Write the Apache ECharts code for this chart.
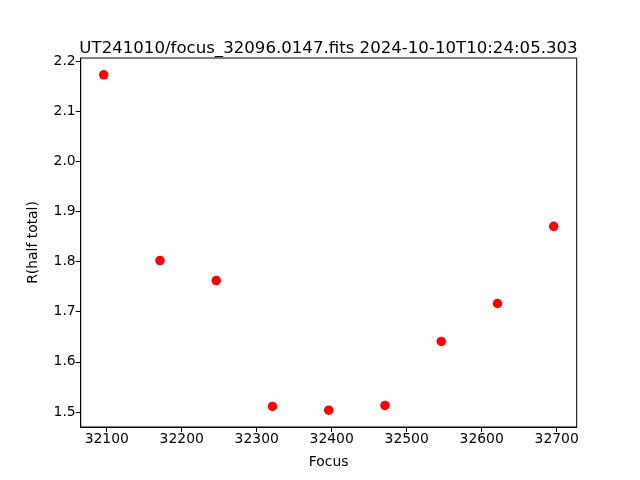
<!DOCTYPE html>
<html>
<head>
<meta charset="utf-8">
<script src="https://cdn.jsdelivr.net/npm/echarts@6/dist/echarts.min.js"></script>
<style>html,body{margin:0;padding:0;background:#fff}#c{width:640px;height:480px}</style>
</head>
<body>
<div id="c"></div>
<script>
const titleText = 'UT241010/focus_32096.0147.fits 2024-10-10T10:24:05.303';
const focusValues = [32096, 32171, 32246, 32321, 32396, 32471, 32546, 32621, 32696];
const rHalfTotal = [2.1725, 1.802, 1.762, 1.511, 1.5035, 1.513, 1.6406, 1.7163, 1.8703];
const xTicks = [32100, 32200, 32300, 32400, 32500, 32600, 32700];
const yTicks = [1.5, 1.6, 1.7, 1.8, 1.9, 2.0, 2.1, 2.2];

const FONT = 'DejaVu Sans';
const chart = echarts.init(document.getElementById('c'), null, {renderer: 'canvas'});
const axisCommon = {
  axisLine: {show: true, onZero: false, lineStyle: {color: '#000', width: 1}},
  axisTick: {show: true, inside: false, length: 5, lineStyle: {color: '#000', width: 1}},
  splitLine: {show: false},
  nameTextStyle: {fontFamily: FONT, fontSize: 13.9, color: '#000'}
};
chart.setOption({
  animation: false,
  backgroundColor: '#fff',
  title: {
    text: titleText, left: 323.5, top: 35, textAlign: 'center',
    textStyle: {fontFamily: FONT, fontSize: 16.6, fontWeight: 'normal', color: '#000'}
  },
  grid: {left: 80.7, right: 63.3, top: 58, bottom: 53, show: true, borderColor: '#000', borderWidth: 1, backgroundColor: 'transparent'},
  xAxis: Object.assign({}, axisCommon, {
    type: 'value', min: 32065.3, max: 32726.7,
    name: 'Focus', nameLocation: 'middle', nameGap: 28,
    axisTick: Object.assign({}, axisCommon.axisTick, {customValues: xTicks}),
    axisLabel: {customValues: xTicks, fontFamily: FONT, fontSize: 13.9, color: '#000', margin: 5, formatter: v => String(Math.round(v))}
  }),
  yAxis: Object.assign({}, axisCommon, {
    type: 'value', min: 1.470, max: 2.206,
    name: 'R(half total)', nameLocation: 'middle', nameGap: 40, nameRotate: 90,
    axisTick: Object.assign({}, axisCommon.axisTick, {customValues: yTicks}),
    axisLabel: {customValues: yTicks, fontFamily: FONT, fontSize: 13.9, color: '#000', margin: 5, formatter: v => v.toFixed(1)}
  }),
  series: [{
    type: 'scatter',
    data: focusValues.map((f, i) => [f, rHalfTotal[i]]),
    symbol: 'circle', symbolSize: 9.5,
    itemStyle: {color: '#ff0000', opacity: 1}
  }]
});
</script>
</body>
</html>
